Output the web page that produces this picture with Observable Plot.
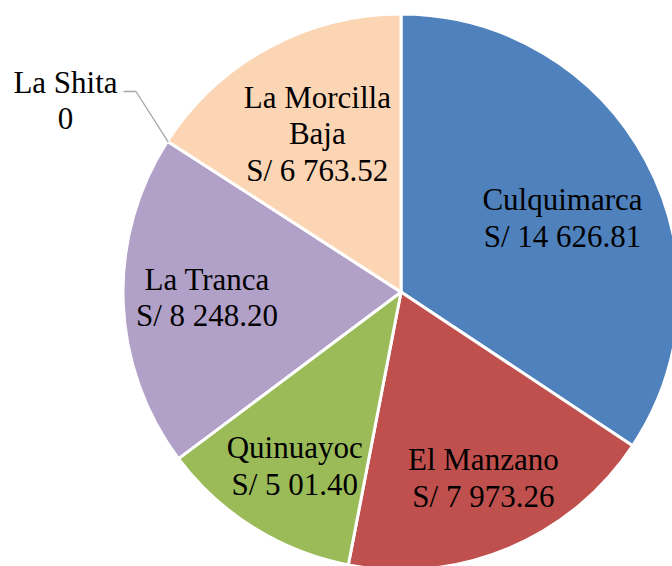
<!DOCTYPE html>
<html>
<head>
<meta charset="utf-8">
<script src="https://cdn.jsdelivr.net/npm/d3@7"></script>
<script src="https://cdn.jsdelivr.net/npm/@observablehq/plot@0.6"></script>
<style>
  html, body { margin: 0; padding: 0; background: #fff; }
  #chart svg { display: block; }
</style>
</head>
<body>
<div id="chart"></div>
<script>
// ---- Data ----
const communities = ["Culquimarca", "El Manzano", "Quinuayoc", "La Tranca", "La Shita", "La Morcilla Baja"];
const amounts = [14626.81, 7973.26, 5001.40, 8248.20, 0, 6763.52];
const nameLabels = ["Culquimarca", "El Manzano", "Quinuayoc", "La Tranca", "La Shita", "La Morcilla\nBaja"];
const amountLabels = ["S/ 14 626.81", "S/ 7 973.26", "S/ 5 01.40", "S/ 8 248.20", "0", "S/ 6 763.52"];
const sliceColors = ["#4F81BD", "#C0504D", "#9BBB59", "#B1A0C7", "#F79646", "#FCD5B4"];

// ---- Layout (not data) ----
const W = 672, H = 566;
const CX = 401, CY = 292, R = 278;
const labelRadius = [0.64, 0.725, 0.73, 0.70, 0, 0.65];
const labelAngleNudge = [3, -1.2, -0.3, 0.8, 0, 0.8]; // degrees
const FONT = "Liberation Serif";

const data = communities.map((c, i) => ({community: c, amount: amounts[i], label: nameLabels[i] + "\n" + amountLabels[i]}));
const arcs = d3.pie().sort(null).value(d => d.amount)(data);

const inside = arcs
  .map((a, i) => ({a, i}))
  .filter(({a}) => a.data.amount > 0)
  .map(({a, i}) => {
    const ang = (a.startAngle + a.endAngle) / 2 + labelAngleNudge[i] * Math.PI / 180;
    const rr = R * labelRadius[i];
    return {x: rr * Math.sin(ang), y: -rr * Math.cos(ang), label: a.data.label};
  });

const zeroArc = arcs.find(a => a.data.amount === 0);
const edgeX = R * Math.sin(zeroArc.startAngle), edgeY = -R * Math.cos(zeroArc.startAngle);
const leader = [
  {x: edgeX, y: edgeY},
  {x: edgeX - 32, y: -201},
  {x: edgeX - 44, y: -201}
];
const outside = [{x: -336, y: -193, label: zeroArc.data.label}];

function pie(data, options) {
  return Plot.dot(data, {
    x: () => 0,
    y: () => 0,
    fill: "community",
    render(index, scales, values, dimensions, context) {
      const cx = scales.x(0), cy = scales.y(0);
      const r = Math.abs(scales.x(R) - scales.x(0));
      const arcGen = d3.arc().innerRadius(0).outerRadius(r);
      const g = d3.select(context.document.createElementNS("http://www.w3.org/2000/svg", "g"))
        .attr("transform", `translate(${cx},${cy})`);
      arcs.forEach((a, k) => {
        g.append("path")
          .attr("d", arcGen(a))
          .attr("fill", values.fill[k])
          .attr("stroke", "#fff")
          .attr("stroke-width", 3)
          .attr("stroke-linejoin", "round");
      });
      return g.node();
    }
  });
}

const chart = Plot.plot({
  width: W,
  height: H,
  margin: 0,
  style: {background: "#fff", fontFamily: FONT},
  x: {domain: [-CX, W - CX], range: [0, W], axis: null},
  y: {domain: [-CY, H - CY], range: [0, H], axis: null},
  color: {domain: communities, range: sliceColors},
  marks: [
    pie(data),
    Plot.line(leader, {x: "x", y: "y", stroke: "#A6A6A6", strokeWidth: 1.3}),
    Plot.text(inside, {x: "x", y: "y", text: "label", fontSize: 31, lineHeight: 1.18, fill: "#000", fontFamily: FONT}),
    Plot.text(outside, {x: "x", y: "y", text: "label", fontSize: 31, lineHeight: 1.18, fill: "#000", fontFamily: FONT})
  ]
});

chart.setAttribute("font-family", FONT);
chart.querySelectorAll("g, text, tspan").forEach(el => {
  if (el.tagName.toLowerCase() !== "g" || el.hasAttribute("font-family")) el.setAttribute("font-family", FONT);
  if (el.tagName.toLowerCase() !== "g") el.style.fontFamily = FONT;
});

document.getElementById("chart").appendChild(chart);
</script>
</body>
</html>
